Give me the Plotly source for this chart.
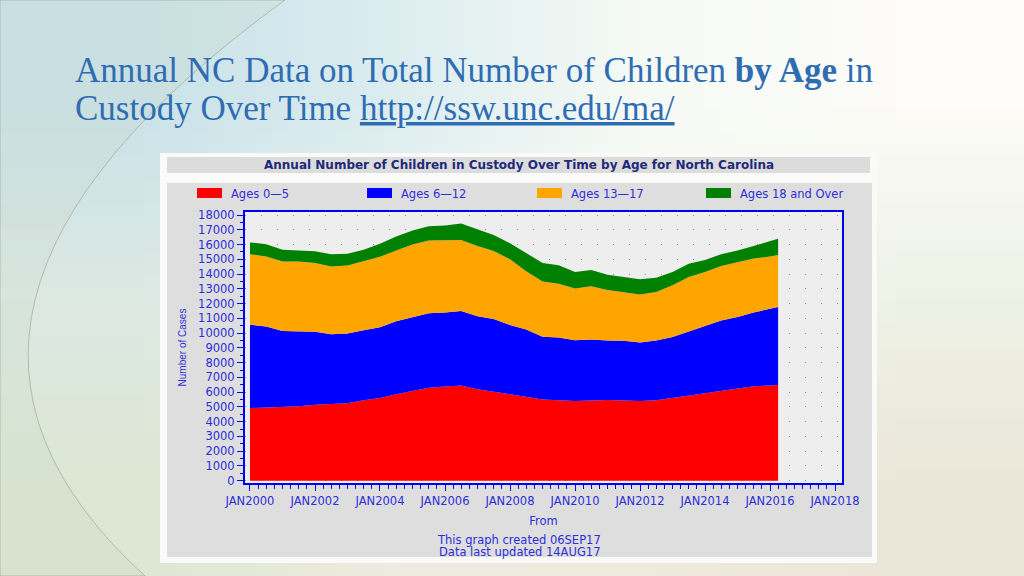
import base64
import struct
import zlib
import plotly.graph_objects as go

# ---------------- data ----------------
dates = [
    "2000-01-01", "2000-07-01", "2001-01-01", "2001-07-01", "2002-01-01", "2002-07-01",
    "2003-01-01", "2003-07-01", "2004-01-01", "2004-07-01", "2005-01-01", "2005-07-01",
    "2006-01-01", "2006-07-01", "2007-01-01", "2007-07-01", "2008-01-01", "2008-07-01",
    "2009-01-01", "2009-07-01", "2010-01-01", "2010-07-01", "2011-01-01", "2011-07-01",
    "2012-01-01", "2012-07-01", "2013-01-01", "2013-07-01", "2014-01-01", "2014-07-01",
    "2015-01-01", "2015-07-01", "2016-01-01", "2016-04-01",
]
ages_0_5 = [
    4920, 4960, 4980, 5050, 5150, 5200, 5250, 5450, 5600, 5850, 6100, 6300,
    6380, 6450, 6200, 6050, 5850, 5680, 5500, 5450, 5400, 5430, 5470, 5430,
    5390, 5450, 5610, 5750, 5900, 6050, 6250, 6400, 6450, 6490,
]
ages_6_12 = [
    5650, 5490, 5170, 5100, 4950, 4730, 4730, 4750, 4800, 4950, 5000, 5050,
    5020, 5050, 4950, 4900, 4700, 4570, 4250, 4250, 4120, 4130, 4030, 4050,
    3970, 4050, 4130, 4350, 4550, 4800, 4850, 5000, 5200, 5280,
]
ages_13_17 = [
    4780, 4750, 4700, 4700, 4650, 4590, 4600, 4650, 4770, 4800, 4900, 4930,
    4900, 4820, 4750, 4610, 4450, 3950, 3750, 3650, 3510, 3610, 3420, 3300,
    3260, 3280, 3510, 3700, 3700, 3700, 3700, 3650, 3550, 3530,
]
ages_18_over = [
    800, 820, 800, 750, 800, 830, 800, 800, 880, 950, 950, 970,
    1000, 1110, 1150, 1090, 1100, 1250, 1250, 1250, 1120, 1100, 1030, 1020,
    1030, 970, 900, 900, 800, 800, 800, 850, 1050, 1100,
]
series_names = ["Ages 0\u20145", "Ages 6\u201412", "Ages 13\u201417", "Ages 18 and Over"]
series_values = [ages_0_5, ages_6_12, ages_13_17, ages_18_over]
series_colors = ["#FF0000", "#0000FF", "#FFA500", "#008000"]

x_tick_vals = [
    "2000-01-01", "2002-01-01", "2004-01-01", "2006-01-01", "2008-01-01",
    "2010-01-01", "2012-01-01", "2014-01-01", "2016-01-01", "2018-01-01",
]
x_tick_text = [
    "JAN2000", "JAN2002", "JAN2004", "JAN2006", "JAN2008",
    "JAN2010", "JAN2012", "JAN2014", "JAN2016", "JAN2018",
]
y_tick_vals = list(range(0, 18001, 1000))

chart_title = "Annual Number of Children in Custody Over Time by Age for North Carolina"
footer_lines = ["This graph created 06SEP17", "Data last updated 14AUG17"]

# ---------------- helpers ----------------
W, H = 1024, 576


def px(x):
    return x / W


def py(y):
    return 1 - y / H


def make_png(rows):
    w = len(rows[0])
    h = len(rows)
    raw = b"".join(b"\x00" + bytes([c for p in row for c in p]) for row in rows)

    def chunk(t, d):
        c = struct.pack(">I", len(d)) + t + d
        return c + struct.pack(">I", zlib.crc32(t + d) & 0xFFFFFFFF)

    return (b"\x89PNG\r\n\x1a\n"
            + chunk(b"IHDR", struct.pack(">IIBBBBB", w, h, 8, 2, 0, 0, 0))
            + chunk(b"IDAT", zlib.compress(raw))
            + chunk(b"IEND", b""))


def hx(c):
    c = c.lstrip("#")
    return tuple(int(c[i:i + 2], 16) for i in (0, 2, 4))


bg_rows = [
    [hx("#c9e2e9"), hx("#dcedf0"), hx("#f6faf4"), hx("#fdfcf8")],
    [hx("#dce9e3"), hx("#ecf4f3"), hx("#fbfbf6"), hx("#eef2e6")],
    [hx("#dde7d3"), hx("#eeebe0"), hx("#efeade"), hx("#ebe6d8")],
]
bg_src = "data:image/png;base64," + base64.b64encode(make_png(bg_rows)).decode()

TXT_BLUE = "#2E2EDB"
AXIS_BLUE = "#0000F0"

fig = go.Figure()

for name, vals, col in zip(series_names, series_values, series_colors):
    fig.add_trace(go.Scatter(
        x=dates, y=vals, name=name, mode="lines",
        stackgroup="one", line=dict(width=0, color=col),
        fillcolor=col, showlegend=False,
    ))

# plot domain in pixels
L, R, T, B = 245, 842, 212, 483

shapes = [
    # slide decoration arc (left)
    dict(type="path", xref="paper", yref="paper",
         path=f"M {px(285)},{py(0)} Q {px(-145)},{py(312)} {px(145)},{py(576)} L 0,0 L 0,1 Z",
         fillcolor="rgba(200,212,195,0.22)", line=dict(color="rgba(150,150,130,0.55)", width=1),
         layer="below"),
    # white frame of the chart picture
    dict(type="rect", xref="paper", yref="paper", x0=px(160), x1=px(877), y0=py(563), y1=py(153),
         fillcolor="#FAFAF8", line=dict(width=0), layer="below"),
    # title band
    dict(type="rect", xref="paper", yref="paper", x0=px(167), x1=px(870), y0=py(173), y1=py(157),
         fillcolor="#DCDCDC", line=dict(width=0), layer="below"),
    # gray panel
    dict(type="rect", xref="paper", yref="paper", x0=px(167), x1=px(872), y0=py(557), y1=py(183),
         fillcolor="#DEDEDE", line=dict(width=0), layer="below"),
    # plot background
    dict(type="rect", xref="paper", yref="paper", x0=px(L), x1=px(R), y0=py(B), y1=py(T),
         fillcolor="#EEEEEE", line=dict(width=0), layer="below"),
]

annotations = [
    dict(text="Annual NC Data on Total Number of Children <b>by Age</b> in",
         x=px(73), y=py(70), xanchor="left", yanchor="middle", showarrow=False,
         xref="paper", yref="paper",
         font=dict(family="Liberation Serif", size=35, color="#2F6DB3")),
    dict(text="Custody Over Time <u>http://ssw.unc.edu/ma/</u>",
         x=px(73), y=py(108), xanchor="left", yanchor="middle", showarrow=False,
         xref="paper", yref="paper",
         font=dict(family="Liberation Serif", size=35, color="#2F6DB3")),
    dict(text=f"<b>{chart_title}</b>", x=px(519), y=py(165), xanchor="center", yanchor="middle",
         showarrow=False, xref="paper", yref="paper",
         font=dict(family="DejaVu Sans", size=12, color="#1E2A7A")),
]

legend_swatch_x = [197, 367, 537, 706]
for sx, name, col in zip(legend_swatch_x, series_names, series_colors):
    shapes.append(dict(type="rect", xref="paper", yref="paper", x0=px(sx), x1=px(sx + 25),
                       y0=py(198), y1=py(188), fillcolor=col, line=dict(width=0)))
    annotations.append(dict(text=name, x=px(sx + 32), y=py(194), xanchor="left", yanchor="middle",
                            showarrow=False, xref="paper", yref="paper",
                            font=dict(family="DejaVu Sans", size=11.5, color=TXT_BLUE)))

for i, line in enumerate(footer_lines):
    annotations.append(dict(text=line, x=px(519), y=py(540 + 12 * i), xanchor="center", yanchor="middle",
                            showarrow=False, xref="paper", yref="paper",
                            font=dict(family="DejaVu Sans", size=11.5, color=TXT_BLUE)))

fig.update_layout(
    width=W, height=H,
    margin=dict(l=0, r=0, t=0, b=0),
    paper_bgcolor="#F2F5F0",
    plot_bgcolor="rgba(0,0,0,0)",
    showlegend=False,
    images=[dict(source=bg_src, xref="paper", yref="paper", x=0, y=1, sizex=1, sizey=1,
                 sizing="stretch", layer="below", xanchor="left", yanchor="top")],
    shapes=shapes,
    annotations=annotations,
    xaxis=dict(
        domain=[px(L), px(R)], type="date",
        range=["1999-11-06", "2018-03-20"],
        tickmode="array", tickvals=x_tick_vals, ticktext=x_tick_text,
        ticks="outside", ticklen=6, tickwidth=1, tickcolor=AXIS_BLUE,
        minor=dict(dtick="M3", tick0="2000-01-01", ticks="outside", ticklen=4,
                   tickcolor=AXIS_BLUE, showgrid=False),
        showline=True, linecolor=AXIS_BLUE, linewidth=2, mirror=True,
        showgrid=False, zeroline=False,
        tickfont=dict(family="DejaVu Sans", size=11.5, color=TXT_BLUE),
        title=dict(text="From", standoff=10,
                   font=dict(family="DejaVu Sans", size=11.5, color=TXT_BLUE)),
        automargin=False,
    ),
    yaxis=dict(
        domain=[py(B), py(T)],
        range=[-160, 18210],
        tickmode="array", tickvals=y_tick_vals, tickformat="d",
        ticks="outside", ticklen=6, tickwidth=1, tickcolor=AXIS_BLUE,
        minor=dict(dtick=500, tick0=0, ticks="outside", ticklen=3,
                   tickcolor=AXIS_BLUE, showgrid=False),
        showline=True, linecolor=AXIS_BLUE, linewidth=2, mirror=True,
        showgrid=True, gridcolor="#8C8C8C", gridwidth=1, griddash="1px,15px",
        zeroline=False,
        tickfont=dict(family="DejaVu Sans", size=11.5, color=TXT_BLUE),
        title=dict(text="Number of Cases", standoff=10,
                   font=dict(family="Liberation Sans", size=10, color=TXT_BLUE)),
        automargin=False,
    ),
)

fig.write_html(
    "out.html",
    config={"displayModeBar": False},
    post_script="document.documentElement.style.margin='0';document.body.style.margin='0';"
                "document.body.style.overflow='hidden';",
)
